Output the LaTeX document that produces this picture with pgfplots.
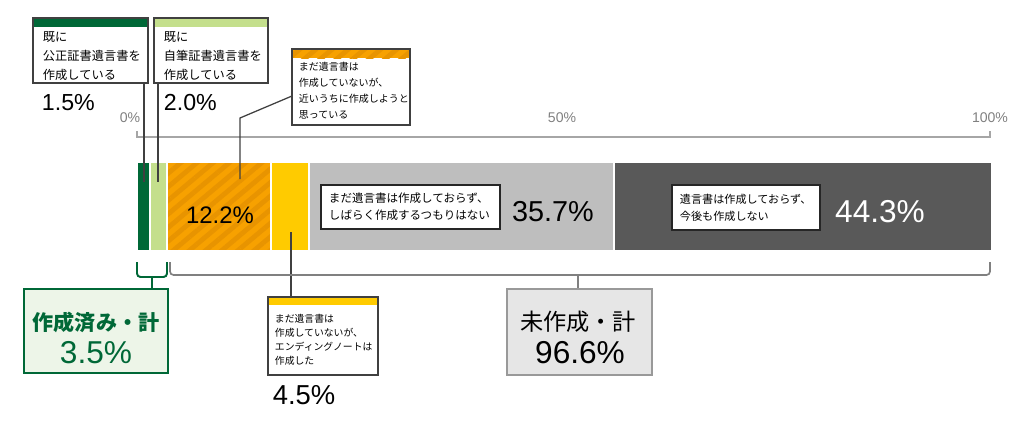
\documentclass[border=0pt]{standalone}
\usepackage{fontspec}
\setmainfont{Liberation Sans}
\newfontfamily\jp{Noto Sans CJK JP}
\usepackage{pgfplots}
\pgfplotsset{compat=1.18}
\usetikzlibrary{patterns.meta}

\definecolor{dgreen}{RGB}{0,104,55}
\definecolor{lgreen}{RGB}{196,223,140}
\definecolor{orA}{RGB}{247,161,0}
\definecolor{orB}{RGB}{232,148,0}
\definecolor{yel}{RGB}{255,203,0}
\definecolor{lgray}{RGB}{190,190,190}
\definecolor{dgray}{RGB}{89,89,89}
\definecolor{boxgreen}{RGB}{237,245,232}
\definecolor{boxgray}{RGB}{230,230,230}

% stripe style for the "soon" category
\tikzset{stripes/.style={postaction={pattern={Lines[angle=40,distance=2.6mm,line width=1.2mm]},pattern color=orB}}}

\begin{document}
\begin{tikzpicture}
\begin{axis}[
    scale only axis, width=256mm, height=105.75mm,
    xmin=-16.06, xmax=103.99, ymin=0, ymax=423,
    y dir=reverse, hide axis, clip=false,
    xbar stacked, bar width=89,
    every axis plot/.append style={draw=white, line width=0.45mm},
]
\addplot[fill=dgreen] coordinates {(1.5,206.5)};
\addplot[fill=lgreen] coordinates {(2.0,206.5)};
\addplot[fill=orA, stripes] coordinates {(12.2,206.5)};
\addplot[fill=yel] coordinates {(4.5,206.5)};
\addplot[fill=lgray] coordinates {(35.7,206.5)};
\addplot[fill=dgray] coordinates {(44.3,206.5)};
\end{axis}

% annotations, one unit = one pixel of the reference
\begin{scope}[x=0.25mm, y=-0.25mm, shift={(0,105.75mm)}]
\path[use as bounding box] (0,0) rectangle (1024,423);

% scale
\draw[black!35, line width=0.8pt] (137,131) -- (137,137) -- (990,137) -- (990,131);
\node[text=black!50, font=\fontsize{10}{11}\selectfont] at (130,118) {0\%};
\node[text=black!50, font=\fontsize{10}{11}\selectfont] at (562,118) {50\%};
\node[text=black!50, font=\fontsize{10}{11}\selectfont] at (990,118) {100\%};

% connectors
\draw[black!75, line width=0.9pt] (144,83) -- (144,182);
\draw[black!75, line width=0.9pt] (158,83) -- (158,182);
\draw[black!75, line width=0.9pt] (292,96) -- (240,118) -- (240,179);
\draw[black!75, line width=0.9pt] (291,232) -- (291,297);

% top callouts
\fill[white] (33,18) rectangle (148,83);
\fill[dgreen] (33,18) rectangle (148,27);
\draw[black!75, line width=1pt] (33,18) rectangle (148,83);
\node[anchor=west, align=left, font=\jp\fontsize{8.7}{13.5}\selectfont] at (38,56)
  {既に\\公正証書遺言書を\\作成している};
\node[anchor=west, font=\fontsize{16.5}{18}\selectfont] at (37,103) {1.5\%};

\fill[white] (154,18) rectangle (268,83);
\fill[lgreen] (154,18) rectangle (268,27);
\draw[black!75, line width=1pt] (154,18) rectangle (268,83);
\node[anchor=west, align=left, font=\jp\fontsize{8.7}{13.5}\selectfont] at (159,56)
  {既に\\自筆証書遺言書を\\作成している};
\node[anchor=west, font=\fontsize{16.5}{18}\selectfont] at (159,103) {2.0\%};

\fill[white] (292,49) rectangle (410,125);
\fill[orA, stripes] (292,49) rectangle (410,58);
\draw[black!75, line width=1pt] (292,49) rectangle (410,125);
\node[anchor=west, align=left, font=\jp\fontsize{7.1}{11.4}\selectfont] at (294,91)
  {まだ遺言書は\\作成していないが、\\近いうちに作成しようと\\思っている};

% labels inside the bar
\node[font=\fontsize{17}{18}\selectfont] at (220,215) {12.2\%};

\filldraw[fill=white, draw=black!85, line width=1pt] (321,185) rectangle (500,229);
\node[anchor=west, align=left, font=\jp\fontsize{8.2}{12.1}\selectfont] at (324,207)
  {まだ遺言書は作成しておらず、\\しばらく作成するつもりはない};
\node[font=\fontsize{20.5}{22}\selectfont] at (553,212) {35.7\%};

\filldraw[fill=white, draw=black!85, line width=1pt] (672,185) rectangle (820,230);
\node[anchor=west, align=left, font=\jp\fontsize{7.9}{12.1}\selectfont] at (675,207.5)
  {遺言書は作成しておらず、\\今後も作成しない};
\node[text=white, font=\fontsize{22.5}{24}\selectfont] at (880,212) {44.3\%};

% yellow callout below
\fill[white] (268,297) rectangle (378,375);
\fill[yel] (268,297) rectangle (378,305);
\draw[black!75, line width=1pt] (268,297) rectangle (378,375);
\node[anchor=west, align=left, font=\jp\fontsize{7}{10}\selectfont] at (270,340)
  {まだ遺言書は\\作成していないが、\\エンディングノートは\\作成した};
\node[font=\fontsize{19.5}{20}\selectfont] at (304,395) {4.5\%};

% brackets
\draw[dgreen, line width=1.4pt, rounded corners=2.5pt]
  (137,262) -- (137,277) -- (167,277) -- (167,262);
\draw[dgreen, line width=1.4pt] (152,277) -- (152,289);
\draw[black!50, line width=1.2pt, rounded corners=2.5pt]
  (170,262) -- (170,275) -- (990,275) -- (990,262);
\draw[black!50, line width=1.2pt] (578,275) -- (578,289);

% totals
\filldraw[fill=boxgreen, draw=dgreen, line width=1.1pt] (24,289) rectangle (168,373);
\node[text=dgreen, font=\jp\bfseries\fontsize{15}{16}\selectfont] at (96,322) {作成済み・計};
\node[text=dgreen, font=\fontsize{22.5}{24}\selectfont] at (96,353) {3.5\%};

\filldraw[fill=boxgray, draw=black!40, line width=1.1pt] (507,289) rectangle (652,375);
\node[font=\jp\fontsize{16.5}{18}\selectfont] at (578,322) {未作成・計};
\node[font=\fontsize{22.5}{24}\selectfont] at (580,353) {96.6\%};
\end{scope}
\end{tikzpicture}
\end{document}
